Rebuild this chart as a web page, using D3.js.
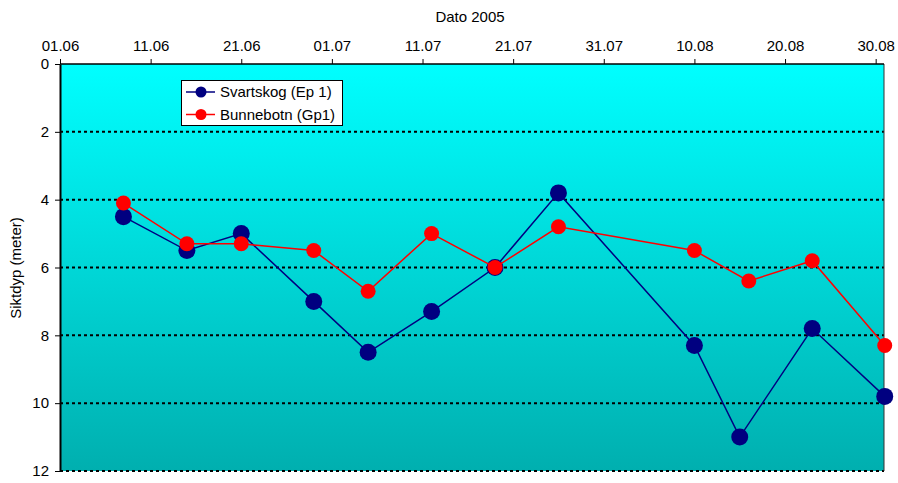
<!DOCTYPE html>
<html><head><meta charset="utf-8">
<script src="https://cdn.jsdelivr.net/npm/d3@7"></script>
<style>body{margin:0;background:#fff}svg{display:block;font-family:"Liberation Sans",Arial,sans-serif}</style>
</head><body><svg id="c" width="898" height="483"></svg>
<script>
const dates = ["2005-06-08","2005-06-15","2005-06-21","2005-06-29","2005-07-05","2005-07-12","2005-07-19","2005-07-26","2005-08-10","2005-08-15","2005-08-23","2005-08-31"];
const datesRed = ["2005-06-08","2005-06-15","2005-06-21","2005-06-29","2005-07-05","2005-07-12","2005-07-19","2005-07-26","2005-08-10","2005-08-16","2005-08-23","2005-08-31"];
const svartskog = [4.5,5.5,5.0,7.0,8.5,7.3,6.0,3.8,8.3,11.0,7.8,9.8];
const bunnebotn = [4.1,5.3,5.3,5.5,6.7,5.0,6.0,4.8,5.5,6.4,5.8,8.3];
const xTickLabels = ["01.06","11.06","21.06","01.07","11.07","21.07","31.07","10.08","20.08","30.08"];
const yTicks = [0,2,4,6,8,10,12];

const parse = d3.utcParse("%Y-%m-%d");
const svg = d3.select("#c");
const L=60,T=64,R=884,B=471;
const x = d3.scaleUtc().domain([parse("2005-06-01"), parse("2005-08-31")]).range([L, L + 91*9.063]);
const y = d3.scaleLinear().domain([0,12]).range([T,B]);

const defs = svg.append("defs");
const g = defs.append("linearGradient").attr("id","bg").attr("x1",0).attr("y1",0).attr("x2",0).attr("y2",1);
g.append("stop").attr("offset","0%").attr("stop-color","#00FFFF");
g.append("stop").attr("offset","100%").attr("stop-color","#00AFAF");
svg.append("rect").attr("x",L).attr("y",T).attr("width",R-L).attr("height",B-T).attr("fill","url(#bg)");

// gridlines
svg.append("g").selectAll("line").data(yTicks.filter(d=>d>0)).join("line")
  .attr("x1",L).attr("x2",R).attr("y1",d=>y(d)).attr("y2",d=>y(d))
  .attr("stroke","#000").attr("stroke-width",2).attr("stroke-dasharray","3,3");

// right border
svg.append("line").attr("x1",R).attr("x2",R).attr("y1",T).attr("y2",B).attr("stroke","#333").attr("stroke-width",1);

// axes
const xTickDates = xTickLabels.map(s => { const [d,m]=s.split("."); return parse(`2005-${m}-${d}`); });
const xAxis = d3.axisTop(x).tickValues(xTickDates).tickFormat((d,i)=>xTickLabels[i]).tickSizeInner(5).tickSizeOuter(0).tickPadding(8);
const xa = svg.append("g").attr("transform",`translate(0,${T})`).call(xAxis);
xa.select(".domain").attr("d",`M${L},0H${R}`).attr("stroke","#000").attr("stroke-width",1.5);
xa.selectAll("text").attr("font-size",15).attr("fill","#000").attr("font-family","Liberation Sans, Arial, sans-serif");
xa.selectAll(".tick line").attr("stroke","#000");

const yAxis = d3.axisLeft(y).tickValues(yTicks).tickSizeInner(5).tickSizeOuter(0).tickPadding(6);
const ya = svg.append("g").attr("transform",`translate(${L},0)`).call(yAxis);
ya.select(".domain").attr("stroke","#000").attr("stroke-width",2);
ya.selectAll("text").attr("font-size",15).attr("fill","#000").attr("font-family","Liberation Sans, Arial, sans-serif");
ya.selectAll(".tick line").attr("stroke","#000");

svg.append("text").attr("x",470).attr("y",22).attr("text-anchor","middle").attr("font-size",15).text("Dato 2005");
svg.append("text").attr("transform","translate(21,268) rotate(-90)").attr("text-anchor","middle").attr("font-size",15).text("Siktdyp (meter)");

const line = d3.line().x(d=>x(d[0])).y(d=>y(d[1]));
const blue = dates.map((d,i)=>[parse(d),svartskog[i]]);
const red = datesRed.map((d,i)=>[parse(d),bunnebotn[i]]);

svg.append("path").datum(blue).attr("d",line).attr("fill","none").attr("stroke","#000080").attr("stroke-width",1.5);
svg.append("g").selectAll("circle").data(blue).join("circle").attr("cx",d=>x(d[0])).attr("cy",d=>y(d[1])).attr("r",8.5).attr("fill","#000080");
svg.append("path").datum(red).attr("d",line).attr("fill","none").attr("stroke","#FF0000").attr("stroke-width",1.5);
svg.append("g").selectAll("circle").data(red).join("circle").attr("cx",d=>x(d[0])).attr("cy",d=>y(d[1])).attr("r",7.5).attr("fill","#FF0000");

// legend
const lg = svg.append("g");
lg.append("rect").attr("x",181.5).attr("y",80.5).attr("width",161).attr("height",45).attr("fill","#fff").attr("stroke","#000");
const items = [["Svartskog (Ep 1)","#000080"],["Bunnebotn (Gp1)","#FF0000"]];
items.forEach((it,i)=>{
  const yy = 92 + i*22.5;
  lg.append("line").attr("x1",186).attr("x2",215).attr("y1",yy).attr("y2",yy).attr("stroke",it[1]).attr("stroke-width",1.5);
  lg.append("circle").attr("cx",201).attr("cy",yy).attr("r",5.5).attr("fill",it[1]);
  lg.append("text").attr("x",220).attr("y",yy+5).attr("font-size",15).text(it[0]);
});
</script></body></html>
